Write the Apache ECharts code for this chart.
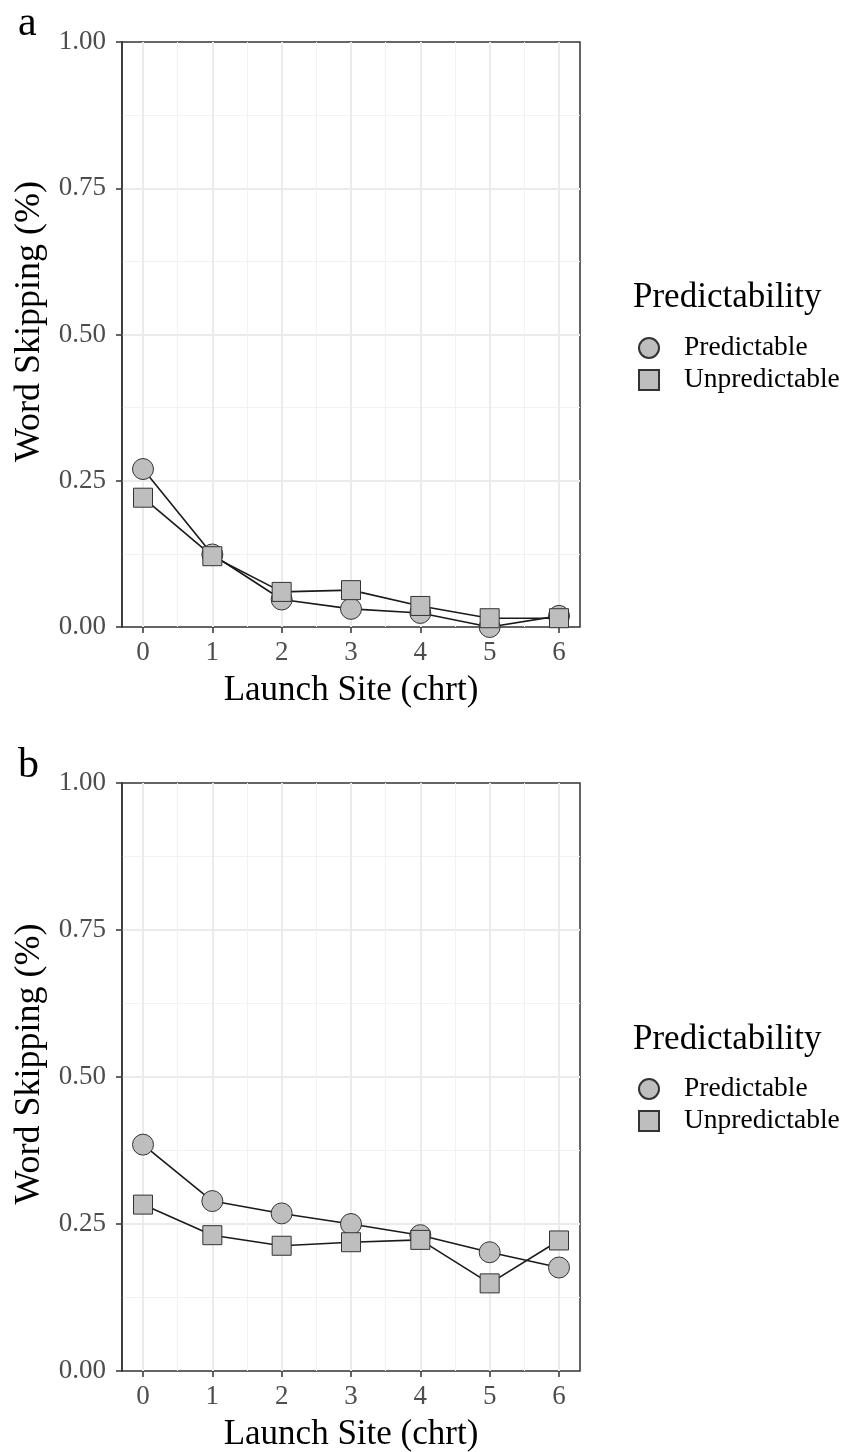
<!DOCTYPE html>
<html>
<head>
<meta charset="utf-8">
<script src="https://cdn.jsdelivr.net/npm/echarts@6/dist/echarts.min.js"></script>
<style>
html,body{margin:0;padding:0;background:#fff;}
#chart{width:845px;height:1452px;}
</style>
</head>
<body>
<div id="chart"></div>
<script>
// ---- data ----
var launchSites = [0, 1, 2, 3, 4, 5, 6];
var predA   = [0.270, 0.124, 0.047, 0.031, 0.024, 0.000, 0.019];
var unpredA = [0.221, 0.121, 0.060, 0.063, 0.036, 0.015, 0.015];
var predB   = [0.385, 0.289, 0.268, 0.250, 0.231, 0.202, 0.176];
var unpredB = [0.283, 0.231, 0.213, 0.219, 0.223, 0.149, 0.222];
var seriesNames = ['Predictable', 'Unpredictable'];
var legendTitle = 'Predictability';
var panelLabels = ['a', 'b'];
var xTitle = 'Launch Site (chrt)';
var yTitle = 'Word Skipping (%)';

var FONT = 'Liberation Serif';
var chart = echarts.init(document.getElementById('chart'), null, {renderer: 'canvas'});

function pairs(ys) { return launchSites.map(function (x, i) { return [x, ys[i]]; }); }

var panels = [
  {top: 42, height: 585, legendTop: 327.5, titleY: 300.5, labelY: 27},
  {top: 783, height: 588, legendTop: 1068.5, titleY: 1042.5, labelY: 769}
];

var grids = [], xAxes = [], yAxes = [], series = [], legends = [], graphics = [];
panels.forEach(function (p, k) {
  grids.push({left: 122, width: 458, top: p.top, height: p.height, show: true,
    borderColor: '#333333', borderWidth: 1.5, backgroundColor: '#ffffff', outerBoundsMode: 'none'});
  grids.push({left: 143, width: 416, top: p.top, height: p.height, show: false, outerBoundsMode: 'none'});
  var gw = 2 * k, gn = 2 * k + 1;
  xAxes.push({type: 'value', gridIndex: gw, min: -0.3, max: 6.3, show: false});
  xAxes.push({type: 'value', gridIndex: gn, min: 0, max: 6, interval: 1,
    name: xTitle, nameLocation: 'middle', nameGap: 46,
    nameTextStyle: {fontFamily: FONT, fontSize: 35, color: '#000'},
    axisLine: {show: false, onZero: false},
    axisTick: {show: true, inside: false, length: 6, lineStyle: {color: '#333333', width: 1.5}},
    axisLabel: {fontFamily: FONT, fontSize: 27, color: '#4D4D4D', margin: 12},
    splitLine: {show: true, lineStyle: {color: '#EBEBEB', width: 2}},
    minorTick: {show: false, splitNumber: 2},
    minorSplitLine: {show: true, lineStyle: {color: '#F2F2F2', width: 1}}
  });
  yAxes.push({type: 'value', gridIndex: gw, min: 0, max: 1, interval: 0.25,
    name: yTitle, nameLocation: 'middle', nameGap: 74, nameRotate: 90,
    nameTextStyle: {fontFamily: FONT, fontSize: 36, color: '#000', padding: [0, 0, 0, 26]},
    axisLine: {show: true, onZero: false, lineStyle: {color: '#333333', width: 1.5}},
    axisTick: {show: true, inside: false, length: 6, lineStyle: {color: '#333333', width: 1.5}},
    axisLabel: {fontFamily: FONT, fontSize: 27, color: '#4D4D4D', margin: 16,
      formatter: function (v) { return v.toFixed(2); }},
    splitLine: {show: true, showMinLine: false, showMaxLine: false, lineStyle: {color: '#EBEBEB', width: 2}},
    minorTick: {show: false, splitNumber: 2},
    minorSplitLine: {show: true, lineStyle: {color: '#F2F2F2', width: 1}}
  });
  yAxes.push({type: 'value', gridIndex: gn, min: 0, max: 1, show: false});

  var dataSets = k === 0 ? [predA, unpredA] : [predB, unpredB];
  var symbols = ['circle', 'rect'];
  var sizes = [21, 19];
  dataSets.forEach(function (d, j) {
    series.push({
      type: 'line', name: seriesNames[j], xAxisIndex: gn, yAxisIndex: gn,
      data: pairs(d), symbol: symbols[j], symbolSize: sizes[j], showAllSymbol: true,
      clip: false, z: 3 + j,
      lineStyle: {color: '#1A1A1A', width: 1.6},
      itemStyle: {color: '#BEBEBE', borderColor: '#333333', borderWidth: 1},
      emphasis: {disabled: true}, animation: false
    });
  });

  legends.push({
    orient: 'vertical', left: 633, top: p.legendTop, itemWidth: 20, itemHeight: 20, itemGap: 1,
    selectedMode: false,
    data: [{name: seriesNames[0], icon: 'circle'}, {name: seriesNames[1], icon: 'rect'}],
    textStyle: {fontFamily: FONT, fontSize: 27.5, color: '#000', lineHeight: 31, padding: [0, 0, 0, 20]}
  });

  graphics.push({type: 'text', left: 633, top: p.titleY - 20, style: {text: legendTitle,
    font: '35px "' + FONT + '"', fill: '#000'}});
  graphics.push({type: 'text', left: 18, top: p.labelY - 24, style: {text: panelLabels[k],
    font: '42px "' + FONT + '"', fill: '#000'}});
});

chart.setOption({
  animation: false,
  backgroundColor: '#ffffff',
  grid: grids, xAxis: xAxes, yAxis: yAxes, series: series,
  legend: legends, graphic: graphics
});
</script>
</body>
</html>
